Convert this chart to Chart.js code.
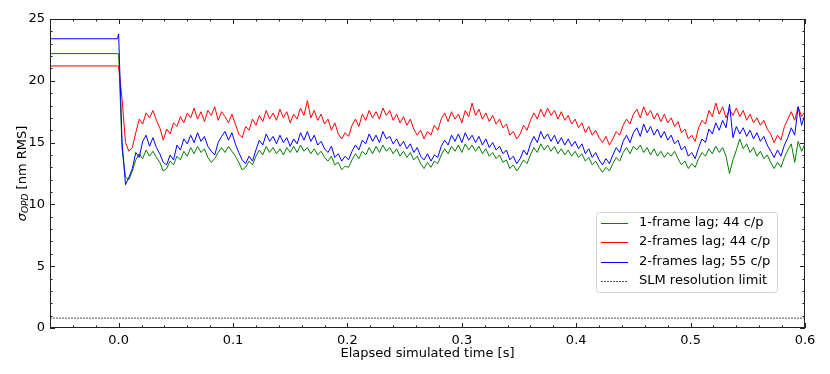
<!DOCTYPE html>
<html>
<head>
<meta charset="utf-8">
<script src="https://cdn.jsdelivr.net/npm/chart.js@4.4.0/dist/chart.umd.min.js"></script>
<style>
  html, body { margin: 0; padding: 0; background: #fff; }
  #wrap { width: 830px; height: 374px; }
</style>
</head>
<body>
<div id="wrap"><canvas id="opd"></canvas></div>
<script>
// time before the loop closes (flat part) + sampled part
const headTimes = [-0.06, -0.001, 0.0];
const sampleStep = 0.003; // s between samples

// sigma_OPD [nm RMS]
const lag1c44Head = [22.2, 22.2, 22.2];
const lag2c44Head = [21.2, 21.2, 21.2];
const lag2c55Head = [23.4, 23.4, 23.8];

// 1-frame lag; 44 c/p (green)
const lag1c44 = [
  14.5, 12.2, 12.0, 12.7, 13.6, 14.1, 13.7, 14.4, 13.9, 14.3,
  13.8, 13.4, 12.7, 12.9, 13.5, 13.2, 13.9, 13.6, 14.3, 13.9,
  14.6, 14.1, 14.7, 14.2, 14.5, 13.8, 13.4, 13.7, 14.2, 14.6,
  14.2, 14.7, 14.3, 13.9, 13.4, 12.8, 13.0, 13.5, 13.2, 13.9,
  14.4, 14.0, 14.7, 14.2, 14.6, 14.1, 14.5, 14.0, 14.6, 14.2,
  14.7, 14.2, 14.8, 14.3, 14.6, 14.1, 14.5, 14.0, 14.3, 13.8,
  13.5, 13.9, 13.2, 13.4, 12.8, 13.1, 13.0, 13.6, 14.1, 13.7,
  14.3, 14.0, 14.6, 14.1, 14.7, 14.2, 14.8, 14.3, 14.6, 14.1,
  14.5, 13.9, 14.3, 13.8, 14.2, 13.6, 13.9, 13.3, 12.9, 13.4,
  13.0, 13.5, 13.3, 14.0, 14.5, 14.1, 14.7, 14.3, 14.8, 14.2,
  14.9, 14.4, 14.8, 14.3, 14.7, 14.1, 14.5, 13.9, 14.2, 13.7,
  14.0, 13.4, 13.6, 12.9, 13.2, 12.7, 13.1, 13.6, 13.3, 14.0,
  14.6, 14.2, 14.9, 14.4, 14.8, 14.3, 14.7, 14.1, 14.5, 14.0,
  14.4, 13.9, 14.3, 13.8, 14.1, 13.5, 13.8, 13.2, 13.5, 13.0,
  12.6, 13.0, 12.7, 13.3, 13.8, 13.5, 14.2, 14.6, 14.1, 14.7,
  14.4, 14.8, 14.2, 14.6, 14.0, 14.5, 13.9, 14.3, 13.8, 14.2,
  13.9, 14.3, 13.7, 13.2, 13.5, 12.9, 13.3, 13.0, 13.7, 14.2,
  13.9, 14.5, 14.1, 14.7, 14.2, 14.6, 13.9, 12.5, 13.6, 14.4,
  15.3, 14.5, 14.9, 14.2, 14.6, 13.9, 14.3, 13.7, 14.0, 13.4,
  12.9, 13.4, 13.0, 13.8, 14.4, 14.9, 13.4, 15.1, 14.3, 14.9
];

// 2-frames lag; 44 c/p (red)
const lag2c44 = [
  18.5, 15.0, 14.3, 14.6, 15.8, 16.9, 16.5, 17.4, 17.0, 17.6,
  16.8, 16.2, 15.2, 16.1, 15.7, 16.6, 16.3, 17.1, 16.6, 17.4,
  17.0, 17.8, 16.9, 17.5, 16.7, 17.6, 17.2, 17.9, 16.8, 17.5,
  17.1, 16.6, 17.3, 16.5, 15.7, 15.4, 16.3, 16.0, 16.9, 16.4,
  17.2, 16.7, 17.6, 16.9, 17.4, 16.8, 17.7, 17.0, 17.5, 16.6,
  17.3, 16.9, 17.8, 17.2, 18.4, 17.0, 17.6, 16.8, 17.3, 16.5,
  16.9, 16.0, 16.6, 15.7, 15.3, 15.8, 15.5, 16.4, 16.9, 16.3,
  17.3, 16.8, 17.6, 17.0, 17.5, 16.9, 17.8, 17.2, 17.6, 16.8,
  17.3, 16.6, 17.1, 16.4, 16.9, 16.1, 15.6, 16.0, 15.3, 15.9,
  15.6, 16.4, 16.0, 16.9, 17.4, 16.7, 17.5, 16.9, 17.3, 16.6,
  17.6, 17.1, 18.2, 17.2, 17.7, 16.9, 17.4, 16.7, 17.2, 16.5,
  16.9, 16.2, 16.5, 15.6, 15.9, 15.3, 15.7, 16.4, 16.0, 16.8,
  17.4, 16.9, 17.7, 17.1, 17.8, 17.2, 17.6, 16.9, 17.5, 16.8,
  17.2, 16.5, 16.9, 16.2, 16.6, 15.8, 16.3, 15.6, 16.0, 15.4,
  15.0, 15.5, 14.8, 15.3, 15.9, 15.6, 16.4, 16.9, 16.5, 17.3,
  17.7, 17.0, 17.9, 17.2, 17.6, 16.9, 17.4, 16.7, 17.3, 16.6,
  17.0, 16.3, 16.7, 15.8, 16.1, 15.3, 15.6, 15.1, 16.2, 16.8,
  16.5, 17.6, 17.1, 18.2, 17.3, 17.9, 17.0, 17.7, 17.2, 17.8,
  17.1, 17.6, 16.8, 17.3, 16.6, 17.0, 16.4, 16.8, 16.1, 15.7,
  15.0, 15.6, 15.2, 16.3, 16.9, 17.5, 16.8, 17.9, 17.1, 17.5
];

// 2-frames lag; 55 c/p (blue)
const lag2c55 = [
  15.0, 11.6, 12.2, 12.9, 14.2, 13.8, 15.1, 15.6, 14.7, 15.4,
  14.6, 14.1, 13.4, 13.2, 14.0, 13.6, 14.8, 14.4, 15.3, 14.9,
  15.6, 15.0, 15.8, 15.1, 15.5, 14.7, 14.3, 14.0, 15.0, 15.5,
  15.9, 15.2, 15.8, 14.9, 14.2, 13.6, 13.3, 13.9, 13.5, 14.4,
  15.2, 14.8, 15.7, 15.1, 15.5, 14.9, 15.6, 15.0, 15.4, 14.7,
  15.3, 14.9, 15.8, 15.2, 15.9, 15.1, 15.6, 14.8, 15.1, 14.5,
  14.2, 14.7, 13.8, 14.1, 13.5, 13.9, 13.6, 14.3, 14.8, 14.4,
  15.2, 14.9, 15.7, 15.1, 15.6, 15.0, 15.9, 15.3, 15.5, 14.9,
  15.3, 14.7, 15.1, 14.5, 14.9, 14.2, 14.6, 13.9, 13.6, 14.1,
  13.5, 14.0, 13.8, 14.7, 15.2, 14.8, 15.6, 15.1, 15.7, 15.0,
  15.8, 15.2, 15.6, 15.0, 15.5, 14.8, 15.3, 14.6, 15.0, 14.4,
  14.7, 14.1, 14.4, 13.6, 13.9, 13.3, 13.7, 14.4, 14.0, 14.9,
  15.5, 15.0, 15.9, 15.3, 15.7, 15.1, 15.6, 14.9, 15.4, 14.8,
  15.3, 14.7, 15.1, 14.5, 14.9, 14.1, 14.5, 13.8, 14.2, 13.6,
  13.2, 13.7, 13.3, 14.0, 14.6, 14.2, 15.1, 15.6, 15.0, 15.8,
  16.2, 15.5, 16.5, 15.8, 16.3, 15.6, 16.1, 15.4, 15.9, 15.2,
  15.6, 14.9, 15.2, 14.4, 14.7, 13.9, 14.2, 13.7, 14.6, 15.3,
  15.0, 16.1, 15.7, 16.6, 16.0, 16.8, 16.2, 18.1, 15.4, 16.3,
  15.7, 16.2, 15.5, 16.0, 15.3, 15.8, 15.1, 15.5, 14.8, 14.3,
  13.8, 14.4, 13.9, 14.8, 15.4, 16.2, 15.6, 17.9, 16.4, 17.3
];

const slmLimit = 0.8;
const xRange = [-0.06, 0.6];
const yRange = [0, 25];
const xTickValues = [0.0, 0.1, 0.2, 0.3, 0.4, 0.5, 0.6];
const yTickValues = [0, 5, 10, 15, 20, 25];
const seriesNames = ['1-frame lag; 44 c/p', '2-frames lag; 44 c/p', '2-frames lag; 55 c/p', 'SLM resolution limit'];

function toPoints(head, vals) {
  const pts = head.map((v, i) => ({ x: headTimes[i], y: v }));
  vals.forEach((v, i) => pts.push({ x: +(sampleStep * (i + 1)).toFixed(3), y: v }));
  return pts;
}

const FONT = "'DejaVu Sans', sans-serif";

// inward ticks on all four sides, frame, axis titles, legend box
const framePlugin = {
  id: 'framePlugin',
  afterDraw(chart) {
    const { ctx, chartArea: a, scales: { x, y } } = chart;
    ctx.save();
    ctx.strokeStyle = '#222';
    ctx.lineWidth = 1;
    const tick = (x1, y1, x2, y2) => { ctx.beginPath(); ctx.moveTo(x1, y1); ctx.lineTo(x2, y2); ctx.stroke(); };

    for (let k = -3; k <= 30; k++) {
      const v = k * 0.02;
      const px = Math.round(x.getPixelForValue(v)) + 0.5;
      const len = (k % 5 === 0) ? 5 : 2.5;
      tick(px, a.bottom, px, a.bottom - len);
      tick(px, a.top, px, a.top + len);
    }
    for (let v = 0; v <= 25; v++) {
      const py = Math.round(y.getPixelForValue(v)) + 0.5;
      const len = (v % 5 === 0) ? 5 : 2.5;
      tick(a.left, py, a.left + len, py);
      tick(a.right, py, a.right - len, py);
    }
    ctx.strokeRect(a.left + 0.5, a.top + 0.5, a.right - a.left - 1, a.bottom - a.top - 1);

    // x title
    ctx.fillStyle = '#000';
    ctx.font = '13px ' + FONT;
    ctx.textAlign = 'center';
    ctx.textBaseline = 'middle';
    ctx.fillText('Elapsed simulated time [s]', (a.left + a.right) / 2, 354);

    // y title with subscript
    ctx.translate(23, (a.top + a.bottom) / 2);
    ctx.rotate(-Math.PI / 2);
    const sig = 'σ', sub = 'OPD', rest = ' [nm RMS]';
    ctx.font = 'italic 13px ' + FONT;
    const w1 = ctx.measureText(sig).width;
    ctx.font = 'italic 9px ' + FONT;
    const w2 = ctx.measureText(sub).width;
    ctx.font = '13px ' + FONT;
    const w3 = ctx.measureText(rest).width;
    let sx = -(w1 + w2 + w3) / 2;
    ctx.textAlign = 'left';
    ctx.font = 'italic 13px ' + FONT;
    ctx.fillText(sig, sx, 0); sx += w1;
    ctx.font = 'italic 9px ' + FONT;
    ctx.fillText(sub, sx, 3); sx += w2;
    ctx.font = '13px ' + FONT;
    ctx.fillText(rest, sx, 0);
    ctx.setTransform(1, 0, 0, 1, 0, 0);

    // legend
    const bx = 596, by = 212, bw = 181, bh = 80;
    ctx.fillStyle = 'rgba(255,255,255,0.85)';
    ctx.strokeStyle = '#d0d0d0';
    ctx.beginPath();
    ctx.roundRect(bx + 0.5, by + 0.5, bw, bh, 3);
    ctx.fill(); ctx.stroke();
    const rows = [222.5, 242, 261.5, 281];
    chart.data.datasets.forEach((ds, i) => {
      const ry = rows[i];
      ctx.strokeStyle = ds.borderColor;
      ctx.lineWidth = 1;
      ctx.setLineDash(ds.borderDash || []);
      tick(601, Math.round(ry) + 0.5, 628, Math.round(ry) + 0.5);
      ctx.setLineDash([]);
      ctx.fillStyle = '#000';
      ctx.font = '13px ' + FONT;
      ctx.textAlign = 'left';
      ctx.textBaseline = 'middle';
      ctx.fillText(ds.label, 639, ry);
    });
    ctx.restore();
  }
};

document.addEventListener('DOMContentLoaded', function () {
  const ctx = document.getElementById('opd').getContext('2d');
  new Chart(ctx, {
    type: 'line',
    data: {
      datasets: [
        { label: seriesNames[0], data: toPoints(lag1c44Head, lag1c44), borderColor: '#008000', order: 3 },
        { label: seriesNames[1], data: toPoints(lag2c44Head, lag2c44), borderColor: '#ff0000', order: 2 },
        { label: seriesNames[2], data: toPoints(lag2c55Head, lag2c55), borderColor: '#0000ff', order: 1 },
        { label: seriesNames[3], data: [{ x: xRange[0], y: slmLimit }, { x: xRange[1], y: slmLimit }],
          borderColor: '#555555', borderDash: [2, 1], order: 4 }
      ]
    },
    options: {
      responsive: true,
      maintainAspectRatio: false,
      animation: false,
      layout: { padding: { left: 0, right: 25, top: 19, bottom: 0 } },
      elements: {
        line: { borderWidth: 1, tension: 0, fill: false },
        point: { radius: 0 }
      },
      plugins: { legend: { display: false }, tooltip: { enabled: false } },
      scales: {
        x: {
          type: 'linear',
          min: xRange[0], max: xRange[1],
          afterBuildTicks: s => { s.ticks = xTickValues.map(v => ({ value: v })); },
          afterFit: s => { s.height = 46; },
          grid: { display: false, drawTicks: false },
          border: { display: false },
          ticks: { color: '#000', font: { family: FONT, size: 13 }, padding: 5, maxRotation: 0,
                   callback: v => v.toFixed(1) }
        },
        y: {
          min: yRange[0], max: yRange[1],
          afterBuildTicks: s => { s.ticks = yTickValues.map(v => ({ value: v })); },
          afterFit: s => { s.width = 50; },
          grid: { display: false, drawTicks: false },
          border: { display: false },
          ticks: { color: '#000', font: { family: FONT, size: 13 }, padding: 5,
                   callback: v => String(v) }
        }
      }
    },
    plugins: [framePlugin]
  });
});
</script>
</body>
</html>
